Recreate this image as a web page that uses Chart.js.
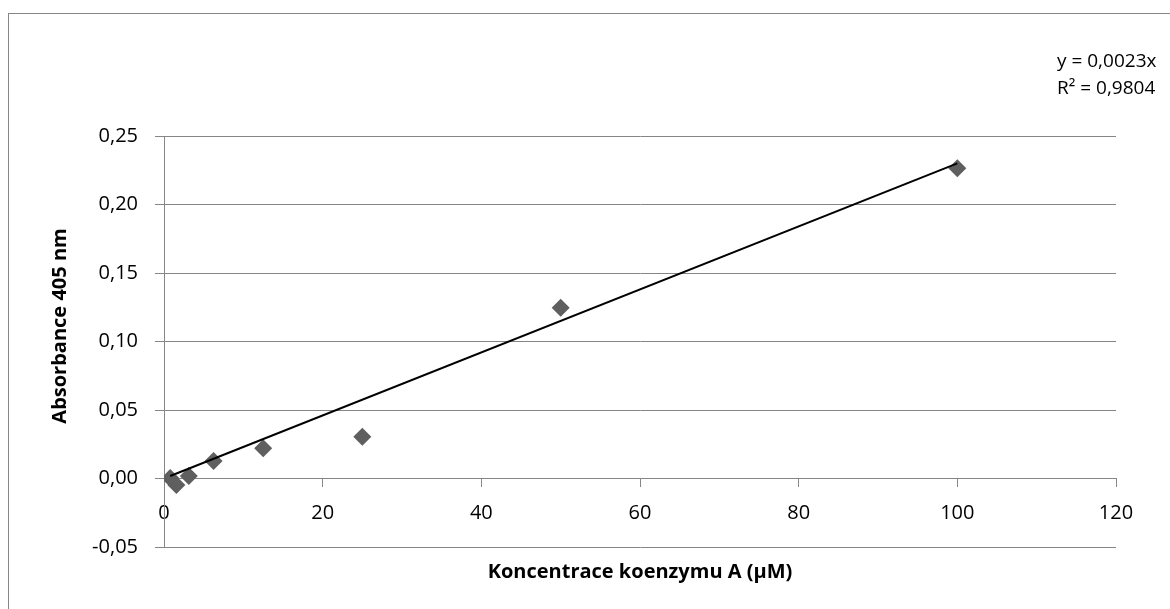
<!DOCTYPE html>
<html>
<head>
<meta charset="utf-8">
<script src="https://cdn.jsdelivr.net/npm/chart.js@4/dist/chart.umd.min.js"></script>
<style>
  html, body { margin: 0; padding: 0; background: #ffffff; }
  #wrap { width: 1170px; height: 609px; position: relative; }
</style>
</head>
<body>
<div id="wrap"><canvas id="chart" width="1170" height="609"></canvas></div>
<script>
// Measured absorbance at 405 nm for each coenzyme A concentration (µM)
const concentrations = [0.78, 1.56, 3.13, 6.25, 12.5, 25, 50, 100];
const absorbances = [0.0003, -0.0048, 0.0018, 0.0128, 0.0220, 0.0305, 0.1247, 0.2264];

// Linear trend forced through the origin
const trendSlope = 0.0023;
const trendR2 = 0.9804;

// Axis ranges and tick spacing
const xTicks = [0, 20, 40, 60, 80, 100, 120];
const yTicks = [-0.05, 0, 0.05, 0.10, 0.15, 0.20, 0.25];

const xTitle = 'Koncentrace koenzymu A (µM)';
const yTitle = 'Absorbance 405 nm';

const fmtComma = (v, d) => v.toFixed(d).replace('.', ',');

const points = concentrations.map((x, i) => ({ x, y: absorbances[i] }));
const xMinData = Math.min(...concentrations);
const xMaxData = Math.max(...concentrations);
const trendPoints = [
  { x: xMinData, y: trendSlope * xMinData },
  { x: xMaxData, y: trendSlope * xMaxData }
];

const equationLines = [
  'y = ' + fmtComma(trendSlope, 4) + 'x',
  'R² = ' + fmtComma(trendR2, 4)
];

const GRID = '#868686';
const FONT = '"Open Sans", "Noto Sans", sans-serif';
const FRAME_LEFT = 8;

// Outer frame, axis titles and the trend equation
const decorations = {
  id: 'decorations',
  beforeDraw(chart) {
    const ctx = chart.ctx;
    ctx.save();
    ctx.strokeStyle = GRID;
    ctx.lineWidth = 1;
    ctx.strokeRect(FRAME_LEFT + 0.5, 13.5, 1200, 640);
    ctx.restore();
  },
  afterDraw(chart) {
    const ctx = chart.ctx;
    const area = chart.chartArea;
    ctx.save();
    ctx.fillStyle = '#000000';
    ctx.font = 'bold 20px ' + FONT;
    ctx.textAlign = 'center';
    ctx.textBaseline = 'middle';
    ctx.fillText(xTitle, (area.left + area.right) / 2, 572);

    ctx.save();
    ctx.translate(60, 326);
    ctx.rotate(-Math.PI / 2);
    ctx.fillText(yTitle, 0, 0);
    ctx.restore();

    ctx.font = '19px ' + FONT;
    ctx.textAlign = 'left';
    ctx.fillText(equationLines[0], 1057, 62);
    ctx.fillText(equationLines[1], 1057, 89);
    ctx.restore();
  }
};

new Chart(document.getElementById('chart'), {
  type: 'scatter',
  data: {
    datasets: [
      {
        label: 'Absorbance',
        data: points,
        pointStyle: 'rectRot',
        pointRadius: 9,
        pointHoverRadius: 9,
        backgroundColor: '#5f5f5f',
        borderColor: '#5f5f5f',
        borderWidth: 0,
        order: 2
      },
      {
        type: 'line',
        label: 'Trend',
        data: trendPoints,
        borderColor: '#000000',
        borderWidth: 2,
        pointRadius: 0,
        fill: false,
        tension: 0,
        order: 1
      }
    ]
  },
  options: {
    responsive: false,
    animation: false,
    layout: { padding: { left: FRAME_LEFT, top: 136, right: 54, bottom: 62 } },
    plugins: {
      legend: { display: false },
      tooltip: { enabled: false }
    },
    scales: {
      x: {
        type: 'linear',
        position: { y: 0 },
        min: xTicks[0],
        max: xTicks[xTicks.length - 1],
        afterFit(scale) { scale.height = 0; },
        afterBuildTicks(scale) { scale.ticks = xTicks.map(v => ({ value: v })); },
        grid: {
          drawOnChartArea: false,
          drawTicks: true,
          tickLength: 8,
          color: GRID,
          lineWidth: 1
        },
        border: { display: true, color: GRID, width: 1 },
        ticks: {
          padding: 15,
          color: '#000000',
          font: { family: FONT, size: 20 },
          maxRotation: 0,
          callback: v => String(v)
        }
      },
      y: {
        type: 'linear',
        min: yTicks[0],
        max: yTicks[yTicks.length - 1],
        afterFit(scale) { scale.width = 164 - FRAME_LEFT; },
        afterBuildTicks(scale) { scale.ticks = yTicks.map(v => ({ value: v })); },
        grid: {
          drawTicks: true,
          tickLength: 9,
          color: GRID,
          lineWidth: 1
        },
        border: { display: true, color: GRID, width: 1 },
        ticks: {
          padding: 17,
          color: '#000000',
          font: { family: FONT, size: 20 },
          callback: v => fmtComma(v, 2)
        }
      }
    }
  },
  plugins: [decorations]
});
</script>
</body>
</html>
